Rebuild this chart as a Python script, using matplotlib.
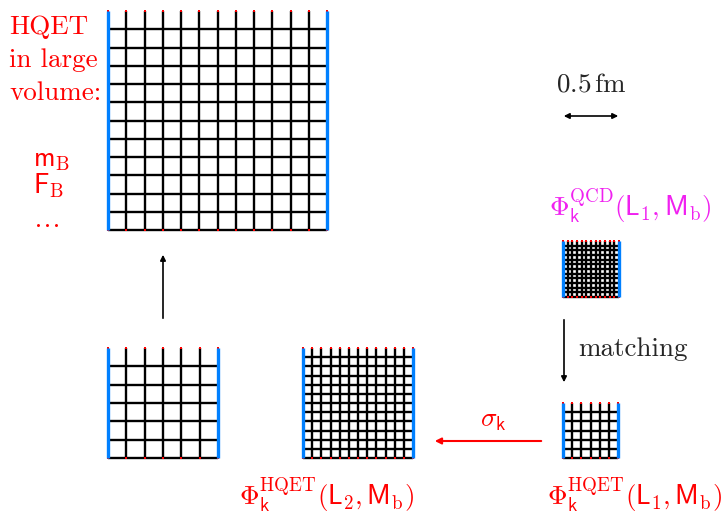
import matplotlib.pyplot as plt

plt.rcParams['mathtext.fontset'] = 'cm'

# lattices: left x, top y, size (px), number of cells
lat_x = [108, 108, 303, 563, 563]
lat_y = [11, 348, 348, 241, 403]
lat_w = [219, 110, 110, 56, 55]
lat_n = [12, 6, 12, 12, 6]

red = '#ff0000'
blue = '#0080ff'
magenta = '#f020f0'
gray = '#262626'
fs = 19.5

fig = plt.figure(figsize=(7.27, 5.14), dpi=100)
ax = fig.add_axes([0, 0, 1, 1])
ax.set_xlim(0, 727)
ax.set_ylim(514, 0)
ax.axis('off')


def lattice(x0, y0, w, n):
    h = w
    d = w / n
    for j in range(1, n + 1):
        ax.plot([x0, x0 + w], [y0 + j * d, y0 + j * d], color='k', lw=1.7, zorder=2,
                solid_capstyle='butt')
    xs = [x0 + i * d for i in range(0, n + 1)]
    for xv in xs[1:-1]:
        ax.plot([xv, xv], [y0, y0 + h], color='k', lw=1.7, zorder=2, solid_capstyle='butt')
    ax.plot(xs, [y0] * len(xs), ls='none', marker='s', ms=2, color=red, mew=0, zorder=3)
    ax.plot(xs, [y0 + h] * len(xs), ls='none', marker='s', ms=2, color=red, mew=0, zorder=3)
    for xv in (x0, x0 + w):
        ax.plot([xv, xv], [y0, y0 + h], color=blue, lw=2.4, zorder=4, solid_capstyle='butt')


for x0, y0, w, n in zip(lat_x, lat_y, lat_w, lat_n):
    lattice(x0, y0, w, n)

# arrows
ax.annotate('', xy=(163, 252), xytext=(163, 321),
            arrowprops=dict(arrowstyle='-|>', color='k', lw=1.2, mutation_scale=8))
ax.annotate('', xy=(564, 385), xytext=(564, 317),
            arrowprops=dict(arrowstyle='-|>', color='k', lw=1.2, mutation_scale=8))
ax.annotate('', xy=(432, 441), xytext=(544, 441),
            arrowprops=dict(arrowstyle='-|>', color=red, lw=1.5, mutation_scale=9))
ax.annotate('', xy=(561, 116), xytext=(621, 116),
            arrowprops=dict(arrowstyle='<|-|>', color='k', lw=1.2, mutation_scale=8))

# texts
ax.text(9, 27, 'HQET', color=red, fontsize=fs, family='cmr10', va='center', ha='left')
ax.text(9, 60, 'in large', color=red, fontsize=fs, family='cmr10', va='center', ha='left')
ax.text(9, 93, 'volume:', color=red, fontsize=fs, family='cmr10', va='center', ha='left')
ax.text(33, 160, r'$\mathsf{m}_\mathrm{B}$', color=red, fontsize=fs, va='center')
ax.text(33, 186, r'$\mathsf{F}_\mathrm{B}$', color=red, fontsize=fs, va='center')
ax.text(33, 220, r'$\ldots$', color=red, fontsize=fs, va='center')
ax.text(591, 84, r'$0.5\,\mathrm{fm}$', color=gray, fontsize=fs, ha='center', va='center')
ax.text(630, 206, r'$\Phi_\mathsf{k}^\mathrm{QCD}(\mathsf{L}_1,\mathsf{M}_\mathrm{b})$',
        color=magenta, fontsize=fs, ha='center', va='center')
ax.text(578, 349, 'matching', color=gray, fontsize=fs, family='cmr10', ha='left', va='center')
ax.text(493, 420, r'$\sigma_\mathsf{k}$', color=red, fontsize=fs, ha='center', va='center')
ax.text(326, 495, r'$\Phi_\mathsf{k}^\mathrm{HQET}(\mathsf{L}_2,\mathsf{M}_\mathrm{b})$',
        color=red, fontsize=fs, ha='center', va='center')
ax.text(634, 495, r'$\Phi_\mathsf{k}^\mathrm{HQET}(\mathsf{L}_1,\mathsf{M}_\mathrm{b})$',
        color=red, fontsize=fs, ha='center', va='center')

plt.savefig('out.png', dpi=100)
